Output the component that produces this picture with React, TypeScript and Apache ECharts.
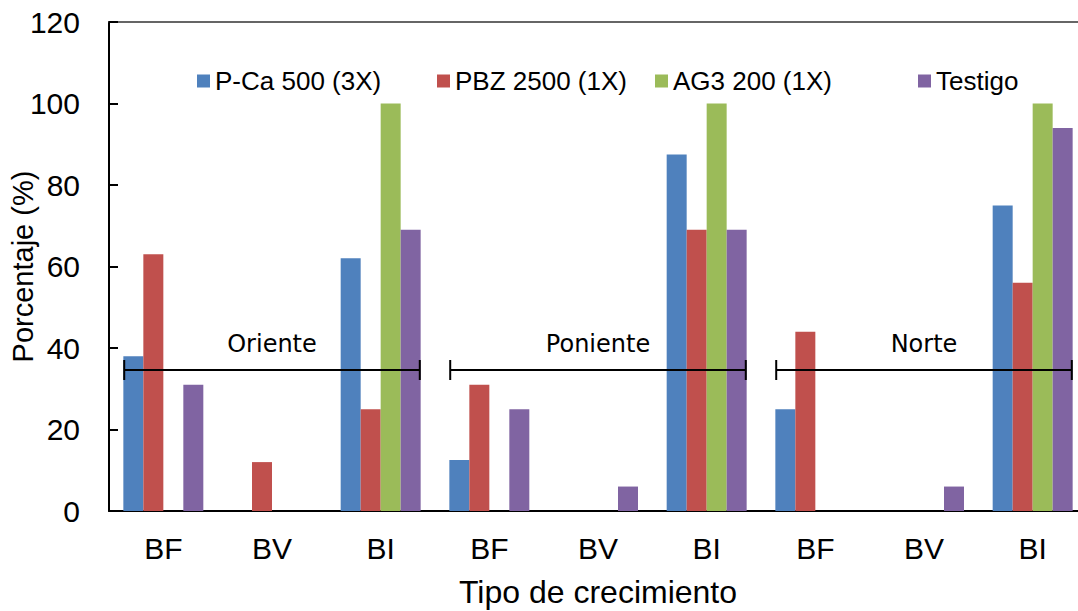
import React, { useEffect, useRef } from "react";
import * as echarts from "echarts";

const categories = ["BF", "BV", "BI", "BF", "BV", "BI", "BF", "BV", "BI"];
const seriesNames = ["P-Ca 500 (3X)", "PBZ 2500 (1X)", "AG3 200 (1X)", "Testigo"];
const pca = [38, 0, 62, 12.5, 0, 87.5, 25, 0, 75];
const pbz = [63, 12, 25, 31, 0, 69, 44, 0, 56];
const ag3 = [0, 0, 100, 0, 0, 100, 0, 0, 100];
const testigo = [31, 0, 69, 25, 6, 69, 0, 6, 94];
const seriesValues = [pca, pbz, ag3, testigo];
const colors = ["#4F81BD", "#C0504D", "#9BBB59", "#8064A2"];

const groupNames = ["Oriente", "Poniente", "Norte"];
const groupStart = [0, 3, 6];
const groupEnd = [2, 5, 8];
const bracketLevel = 34.6;

const yTicks = { min: 0, max: 120, interval: 20 };

const FONT = "Arial, 'Liberation Sans', sans-serif";
const legendLefts = [197, 437, 655, 918];

export default function App() {
  const ref = useRef<HTMLDivElement>(null);
  useEffect(() => {
    if (!ref.current) return;
    const chart = echarts.init(ref.current, undefined, { renderer: "svg" });
    const inset = 0.14;
    const option: any = {
      animation: false,
      backgroundColor: "#ffffff",
      grid: {
        left: 109,
        right: -9,
        top: 22,
        bottom: 100,
        containLabel: false,
        outerBoundsMode: "none",
      },
      legend: seriesNames.map((n, i) => ({
        left: legendLefts[i],
        top: 68,
        padding: 0,
        itemGap: 0,
        itemWidth: 13,
        itemHeight: 13,
        icon: "rect",
        data: [n],
        selectedMode: false,
        textStyle: { fontSize: 26, fontFamily: FONT, color: "#000" },
      })),
      xAxis: [
        {
          type: "category",
          data: categories,
          axisLine: { lineStyle: { color: "#000", width: 2 } },
          axisTick: { inside: true, length: 8, lineStyle: { color: "#000", width: 2 } },
          axisLabel: { fontSize: 30, fontFamily: FONT, color: "#000", margin: 22, interval: 0 },
          name: "Tipo de crecimiento",
          nameLocation: "middle",
          nameGap: 65,
          nameTextStyle: { fontSize: 32, fontFamily: FONT, color: "#000" },
          splitLine: { show: false },
        },
        {
          type: "category",
          data: categories,
          position: "top",
          axisLine: { lineStyle: { color: "#333", width: 1.5 } },
          axisTick: { show: false },
          axisLabel: { show: false },
          splitLine: { show: false },
        },
      ],
      yAxis: {
        type: "value",
        min: yTicks.min,
        max: yTicks.max,
        interval: yTicks.interval,
        axisLine: { show: true, lineStyle: { color: "#000", width: 2 } },
        axisTick: { show: true, inside: true, length: 9, lineStyle: { color: "#000", width: 2 } },
        axisLabel: { fontSize: 30, fontFamily: FONT, color: "#000", margin: 29 },
        splitLine: { show: false },
        name: "Porcentaje (%)",
        nameLocation: "middle",
        nameGap: 72,
        nameMoveOverlap: false,
        nameTextStyle: { fontSize: 29, fontFamily: FONT, color: "#000" },
      },
      series: [
        ...seriesNames.map((n, i) => ({
          name: n,
          type: "bar",
          data: seriesValues[i],
          barGap: "0%",
          barCategoryGap: "26.4%",
          itemStyle: { color: colors[i] },
        })),
        {
          type: "custom",
          name: "brackets",
          clip: false,
          z: 10,
          encode: { x: [0, 1], y: 2 },
          data: groupNames.map((g, i) => [groupStart[i], groupEnd[i], bracketLevel, g]),
          renderItem: (params: any, api: any) => {
            const s = api.value(0);
            const e = api.value(1);
            const y = api.value(2);
            const name = groupNames[params.dataIndex];
            const bw = api.size([1, 0])[0];
            const p0 = api.coord([s, y]);
            const p1 = api.coord([e, y]);
            const x0 = p0[0] - bw / 2 + inset * bw;
            const x1 = p1[0] + bw / 2 - inset * bw;
            const py = p0[1];
            const ls = { stroke: "#000", lineWidth: 2 };
            return {
              type: "group",
              children: [
                { type: "line", shape: { x1: x0, y1: py, x2: x1, y2: py }, style: ls },
                { type: "line", shape: { x1: x0, y1: py - 10, x2: x0, y2: py + 10 }, style: ls },
                { type: "line", shape: { x1: x1, y1: py - 10, x2: x1, y2: py + 10 }, style: ls },
                {
                  type: "text",
                  style: {
                    text: name,
                    x: (x0 + x1) / 2,
                    y: py - 26,
                    align: "center",
                    verticalAlign: "middle",
                    fontSize: 24,
                    fontFamily: "'DejaVu Sans', sans-serif",
                    fill: "#000",
                  },
                },
              ],
            };
          },
        },
      ],
    };
    chart.setOption(option);
    return () => chart.dispose();
  }, []);
  return (
    <div
      ref={ref}
      style={{ position: "absolute", left: 0, top: 0, width: 1078, height: 611, background: "#fff" }}
    />
  );
}
